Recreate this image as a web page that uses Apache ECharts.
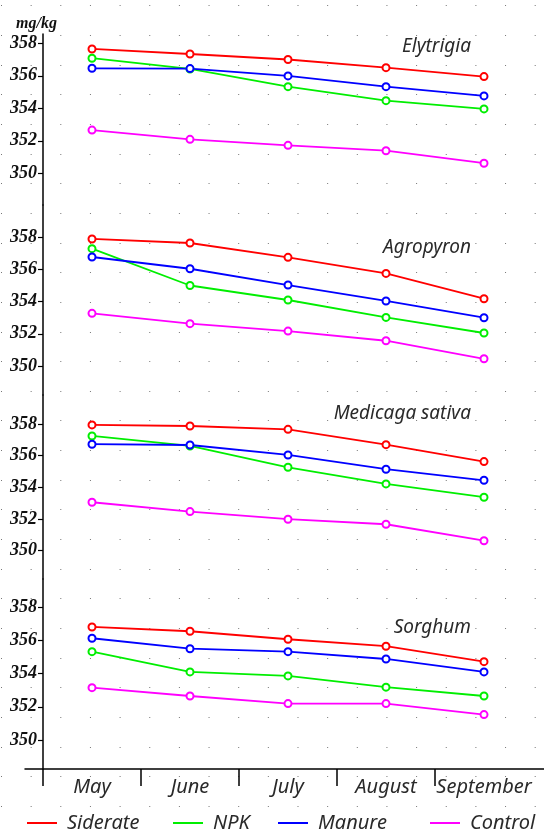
<!DOCTYPE html>
<html>
<head>
<meta charset="utf-8">
<script src="https://cdn.jsdelivr.net/npm/echarts@6/dist/echarts.min.js"></script>
<style>
  html, body { margin: 0; padding: 0; background: #fff; }
  #chart { width: 544px; height: 831px; }
</style>
</head>
<body>
<div id="chart"></div>
<script>
// months on the shared x axis
const months = ['May', 'June', 'July', 'August', 'September']
// one panel per crop, top to bottom
const crops = ['Elytrigia', 'Agropyron', 'Medicaga sativa', 'Sorghum']
const yTicks = [350, 352, 354, 356, 358]

// mg/kg, one row per crop
const siderate = [
  [357.65, 357.34, 357.0, 356.5, 355.95],
  [357.89, 357.64, 356.75, 355.75, 354.18],
  [357.94, 357.87, 357.66, 356.69, 355.62],
  [356.81, 356.55, 356.07, 355.65, 354.72],
]
const npk = [
  [357.08, 356.42, 355.33, 354.47, 353.96],
  [357.29, 355.0, 354.1, 353.02, 352.05],
  [357.24, 356.61, 355.26, 354.21, 353.37],
  [355.32, 354.1, 353.86, 353.18, 352.65],
]
const manure = [
  [356.46, 356.44, 355.99, 355.33, 354.76],
  [356.77, 356.04, 355.03, 354.04, 353.0],
  [356.72, 356.67, 356.04, 355.14, 354.44],
  [356.13, 355.5, 355.32, 354.88, 354.1],
]
const control = [
  [352.66, 352.09, 351.72, 351.39, 350.62],
  [353.27, 352.63, 352.17, 351.57, 350.45],
  [353.05, 352.46, 351.98, 351.66, 350.62],
  [353.15, 352.65, 352.19, 352.19, 351.53],
]

const seriesDefs = [
  { name: 'Siderate', color: '#ff0000', data: siderate },
  { name: 'NPK', color: '#00ee00', data: npk },
  { name: 'Manure', color: '#0000ff', data: manure },
  { name: 'Control', color: '#ff00ff', data: control },
]

// panel layout: pixel top/bottom and y range of each panel
const panels = [
  { top: 34, bottom: 205, min: 348.05, max: 358.57 },
  { top: 205, bottom: 395, min: 348.2, max: 360.0 },
  { top: 395, bottom: 579, min: 348.2, max: 359.83 },
  { top: 579, bottom: 769, min: 348.25, max: 359.7 },
]
const titleCenters = [46, 247, 413, 627]

const H = 831
const sans = 'Noto Sans'
const serif = 'Liberation Serif'
const textColor = '#2a2a2a'

// month positions on a value axis, ticks between months (no tick at the far end)
const monthIdx = months.map((m, i) => i)
const boundaryTicks = months.map((m, i) => i - 0.5)

const chart = echarts.init(document.getElementById('chart'))

const grid = panels.map(p => ({ left: 43, right: 11, top: p.top, height: p.bottom - p.top }))
// background dot lattice
grid.push({ left: 1, right: 0, top: 5.6, bottom: 0 })
// long x axis line
grid.push({ left: 25, right: 0, top: 700, bottom: H - 769 })

const xAxis = panels.map((p, i) => {
  const last = i === panels.length - 1
  return {
    type: 'value',
    gridIndex: i,
    min: -0.5,
    max: months.length - 0.5,
    show: last,
    axisLine: { show: false, onZero: false },
    axisTick: { show: last, customValues: boundaryTicks, length: 17, lineStyle: { color: '#000', width: 1.5 } },
    axisLabel: {
      show: last, customValues: monthIdx, formatter: v => months[Math.round(v)],
      margin: 8, fontSize: 20, fontStyle: 'italic', fontFamily: sans, color: textColor,
    },
    splitLine: { show: false },
  }
})
xAxis.push({ type: 'value', gridIndex: 4, show: false, min: 0, max: 1 })
xAxis.push({
  type: 'value', gridIndex: 5, min: 0, max: 1,
  axisLine: { show: true, onZero: false, lineStyle: { color: '#000', width: 1.5 } },
  axisTick: { show: false }, axisLabel: { show: false }, splitLine: { show: false },
})

const yAxis = panels.map((p, i) => ({
  type: 'value',
  gridIndex: i,
  min: p.min,
  max: p.max,
  axisLine: { show: true, onZero: false, lineStyle: { color: '#000', width: 1.5 } },
  axisTick: { show: true, length: 5, customValues: yTicks, lineStyle: { color: '#000', width: 1.2 } },
  axisLabel: {
    customValues: yTicks, margin: 6, fontSize: 18, fontWeight: 'bold',
    fontStyle: 'italic', fontFamily: serif, color: '#111',
  },
  splitLine: { show: false },
}))
yAxis.push({
  type: 'value', gridIndex: 4, min: 0, max: H - 5.6, interval: 29.65, inverse: true,
  axisLine: { show: false }, axisTick: { show: false }, axisLabel: { show: false },
  splitLine: { show: true, lineStyle: { color: '#777', width: 1, type: [1, 28.65] } },
})
yAxis.push({ type: 'value', gridIndex: 5, show: false })

const series = []
panels.forEach((p, i) => {
  seriesDefs.forEach(s => {
    series.push({
      name: s.name,
      type: 'line',
      xAxisIndex: i,
      yAxisIndex: i,
      data: s.data[i].map((v, k) => [monthIdx[k], v]),
      symbol: 'emptyCircle',
      symbolSize: 7,
      color: s.color,
      lineStyle: { color: s.color, width: 1.8 },
      itemStyle: { color: s.color, borderWidth: 1.6 },
      animation: false,
    })
  })
})

const legendLefts = [22, 168, 273, 425]
const legend = seriesDefs.map((s, i) => ({
  data: [s.name],
  left: legendLefts[i],
  top: 808,
  icon: 'rect',
  itemWidth: 30,
  itemHeight: 2,
  textStyle: {
    fontSize: 20, fontStyle: 'italic', fontFamily: sans, color: textColor,
    padding: [0, 0, 0, 5],
  },
}))

const title = [{
  text: 'mg/kg', left: 11, top: 11,
  textStyle: { fontSize: 16, fontWeight: 'bold', fontStyle: 'italic', fontFamily: serif, color: '#111' },
}]
crops.forEach((c, i) => {
  title.push({
    text: c, right: 68, top: titleCenters[i] - 14,
    textStyle: { fontSize: 19, fontWeight: 'normal', fontStyle: 'italic', fontFamily: sans, color: textColor },
  })
})

chart.setOption({
  backgroundColor: '#fff',
  animation: false,
  title,
  legend,
  grid,
  xAxis,
  yAxis,
  series,
})
</script>
</body>
</html>
